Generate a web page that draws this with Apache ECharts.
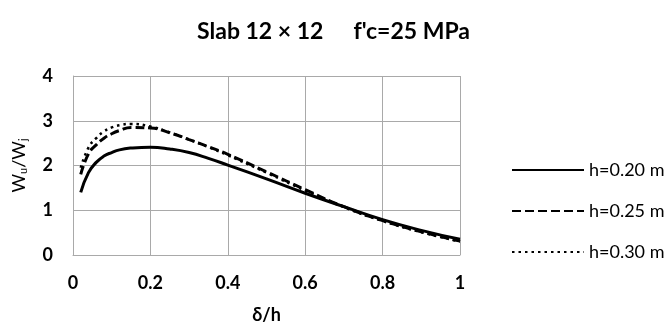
<!DOCTYPE html>
<html>
<head>
<meta charset="utf-8">
<script src="https://cdn.jsdelivr.net/npm/echarts@6/dist/echarts.min.js"></script>
<style>
  html, body { margin: 0; padding: 0; background: #fff; }
  #chart { width: 667px; height: 329px; }
</style>
</head>
<body>
<div id="chart"></div>
<script>
const xValues = [0.02, 0.04, 0.06, 0.08, 0.1, 0.12, 0.15, 0.2, 0.25, 0.3, 0.35, 0.4, 0.5, 0.6, 0.7, 0.8, 0.9, 1.0];
const h020 = [1.40, 1.84, 2.07, 2.21, 2.29, 2.35, 2.39, 2.41, 2.37, 2.29, 2.16, 2.01, 1.70, 1.38, 1.08, 0.79, 0.55, 0.35];
const h025 = [1.80, 2.26, 2.46, 2.61, 2.71, 2.78, 2.85, 2.84, 2.73, 2.58, 2.42, 2.25, 1.86, 1.46, 1.08, 0.77, 0.52, 0.31];
const h030 = [1.95, 2.40, 2.61, 2.76, 2.85, 2.90, 2.93, 2.87, 2.74, 2.58, 2.41, 2.23, 1.84, 1.44, 1.07, 0.76, 0.51, 0.30];
const seriesNames = ['h=0.20 m', 'h=0.25 m', 'h=0.30 m'];

const font = 'Lato, "Open Sans", sans-serif';
const gridColor = '#a9a9a9';

const pairs = (ys) => xValues.map((x, i) => [x, ys[i]]);

const chart = echarts.init(document.getElementById('chart'), null, { renderer: 'canvas' });
chart.setOption({
  animation: false,
  title: {
    text: '{a|Slab 12 \u00d7 12}{gap|}{a|f\'c=25 MPa}',
    left: 'center',
    top: 15,
    textStyle: {
      rich: {
        a: { fontFamily: font, fontWeight: 'bold', fontSize: 23, color: '#000' },
        gap: { width: 30 }
      }
    }
  },
  legend: {
    orient: 'vertical',
    left: 506,
    top: 156,
    itemGap: 23,
    itemWidth: 72,
    itemHeight: 18,
    itemStyle: { opacity: 0 },
    textStyle: { fontFamily: font, fontSize: 18, color: '#000', lineHeight: 18 },
    data: seriesNames
  },
  grid: { left: 73, right: 207, top: 76, bottom: 68 },
  xAxis: {
    type: 'value',
    min: 0,
    max: 1,
    interval: 0.2,
    name: '\u03b4/h',
    nameLocation: 'middle',
    nameGap: 51,
    nameTextStyle: { fontFamily: font, fontWeight: 'bold', fontSize: 18, color: '#000' },
    axisLine: { lineStyle: { color: gridColor } },
    axisTick: { show: false },
    splitLine: { lineStyle: { color: gridColor } },
    axisLabel: { fontFamily: font, fontWeight: 'bold', fontSize: 18, color: '#000', margin: 19 }
  },
  yAxis: {
    type: 'value',
    min: 0,
    max: 4,
    interval: 1,
    name: '{m|W}{s|u}{m|/W}{s|j}',
    nameLocation: 'middle',
    nameGap: 44,
    nameTextStyle: {
      rich: {
        m: { fontFamily: font, fontSize: 18, color: '#000' },
        s: { fontFamily: font, fontSize: 11, color: '#000', verticalAlign: 'bottom', padding: [9, 0, 0, 0] }
      }
    },
    axisLine: { show: true, lineStyle: { color: gridColor } },
    axisTick: { show: false },
    splitLine: { lineStyle: { color: gridColor } },
    axisLabel: { fontFamily: font, fontWeight: 'bold', fontSize: 18, color: '#000', margin: 20 }
  },
  series: [
    {
      name: seriesNames[0],
      type: 'line',
      smooth: true,
      showSymbol: false,
      symbol: 'none',
      color: '#000',
      lineStyle: { width: 3, color: '#000', type: 'solid' },
      data: pairs(h020)
    },
    {
      name: seriesNames[1],
      type: 'line',
      smooth: true,
      showSymbol: false,
      symbol: 'none',
      color: '#000',
      lineStyle: { width: 3, color: '#000', type: [9, 4] },
      data: pairs(h025)
    },
    {
      name: seriesNames[2],
      type: 'line',
      smooth: true,
      showSymbol: false,
      symbol: 'none',
      color: '#000',
      lineStyle: { width: 2.5, color: '#000', type: [2.5, 4] },
      data: pairs(h030)
    }
  ]
});
</script>
</body>
</html>
